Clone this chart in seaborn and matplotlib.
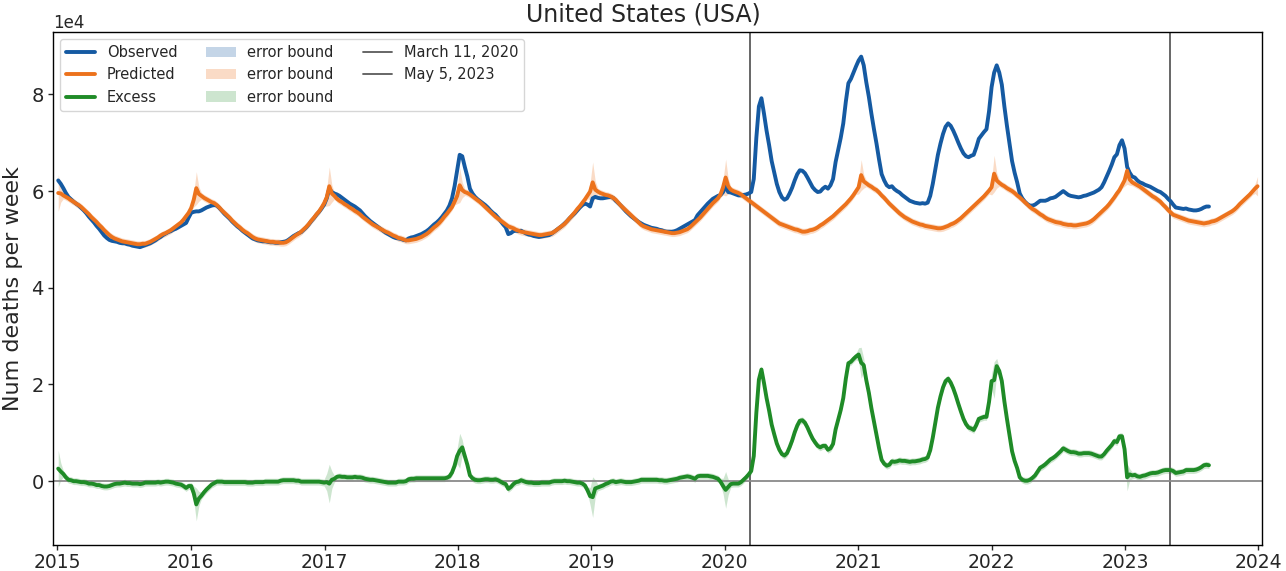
import numpy as np
import pandas as pd
import matplotlib
matplotlib.use("Agg")
import matplotlib.pyplot as plt
import matplotlib.dates as mdates
from matplotlib.lines import Line2D
from matplotlib.patches import Patch
import seaborn as sns

# ---------------- data (weekly, units of 1e4 deaths) ----------------
START = "2015-01-03"
SCALE = 1e4

OBSERVED = [
    6.22, 6.15, 6.06, 5.96, 5.88, 5.83, 5.78, 5.74, 5.70, 5.65,
    5.60, 5.54, 5.47, 5.41, 5.35, 5.28, 5.22, 5.15, 5.08, 5.03,
    4.99, 4.97, 4.96, 4.95, 4.93, 4.92, 4.92, 4.90, 4.89, 4.87,
    4.86, 4.85, 4.84, 4.86, 4.88, 4.90, 4.92, 4.95, 4.98, 5.02,
    5.05, 5.09, 5.12, 5.15, 5.17, 5.20, 5.22, 5.25, 5.28, 5.31,
    5.34, 5.45, 5.55, 5.57, 5.58, 5.58, 5.60, 5.63, 5.66, 5.68,
    5.70, 5.71, 5.70, 5.65, 5.59, 5.53, 5.48, 5.43, 5.37, 5.32,
    5.27, 5.23, 5.18, 5.14, 5.10, 5.06, 5.02, 5.00, 4.98, 4.97,
    4.96, 4.96, 4.95, 4.94, 4.94, 4.93, 4.93, 4.94, 4.95, 4.96,
    4.99, 5.03, 5.07, 5.10, 5.13, 5.15, 5.20, 5.25, 5.31, 5.38,
    5.44, 5.51, 5.57, 5.64, 5.72, 5.85, 6.05, 5.98, 5.95, 5.93,
    5.90, 5.86, 5.82, 5.78, 5.74, 5.71, 5.68, 5.64, 5.60, 5.54,
    5.48, 5.43, 5.38, 5.34, 5.30, 5.26, 5.22, 5.18, 5.14, 5.11,
    5.08, 5.05, 5.03, 5.02, 5.01, 4.99, 4.98, 5.02, 5.04, 5.05,
    5.07, 5.09, 5.11, 5.14, 5.17, 5.21, 5.26, 5.31, 5.35, 5.40,
    5.46, 5.53, 5.60, 5.70, 5.85, 6.10, 6.42, 6.75, 6.72, 6.50,
    6.30, 6.05, 5.95, 5.88, 5.83, 5.79, 5.75, 5.71, 5.66, 5.60,
    5.55, 5.51, 5.45, 5.38, 5.31, 5.25, 5.11, 5.13, 5.17, 5.18,
    5.17, 5.18, 5.15, 5.12, 5.10, 5.09, 5.07, 5.06, 5.05, 5.06,
    5.07, 5.08, 5.09, 5.12, 5.16, 5.20, 5.24, 5.28, 5.33, 5.38,
    5.44, 5.49, 5.54, 5.60, 5.66, 5.71, 5.74, 5.72, 5.68, 5.85,
    5.88, 5.86, 5.85, 5.85, 5.86, 5.87, 5.88, 5.86, 5.80, 5.75,
    5.70, 5.64, 5.58, 5.53, 5.48, 5.44, 5.40, 5.36, 5.33, 5.30,
    5.28, 5.26, 5.24, 5.23, 5.22, 5.20, 5.19, 5.17, 5.16, 5.16,
    5.16, 5.17, 5.19, 5.22, 5.25, 5.28, 5.31, 5.34, 5.37, 5.40,
    5.50, 5.56, 5.62, 5.68, 5.74, 5.79, 5.84, 5.87, 5.90, 5.92,
    5.98, 6.10, 5.98, 5.97, 5.95, 5.93, 5.91, 5.91, 5.92, 5.93,
    5.95, 5.98, 6.25, 7.10, 7.75, 7.92, 7.60, 7.25, 6.95, 6.62,
    6.38, 6.15, 5.98, 5.87, 5.82, 5.85, 5.95, 6.07, 6.22, 6.35,
    6.43, 6.42, 6.37, 6.28, 6.18, 6.08, 6.02, 5.98, 5.99, 6.05,
    6.09, 6.05, 6.12, 6.25, 6.60, 6.85, 7.10, 7.40, 7.85, 8.23,
    8.32, 8.45, 8.58, 8.70, 8.78, 8.60, 8.25, 7.95, 7.60, 7.28,
    6.98, 6.65, 6.35, 6.22, 6.12, 6.08, 6.10, 6.04, 6.00, 5.97,
    5.92, 5.88, 5.84, 5.80, 5.78, 5.76, 5.75, 5.74, 5.75, 5.74,
    5.76, 5.90, 6.15, 6.45, 6.75, 6.98, 7.18, 7.33, 7.40, 7.35,
    7.25, 7.13, 7.00, 6.88, 6.78, 6.72, 6.70, 6.73, 6.75, 6.90,
    7.08, 7.15, 7.22, 7.28, 7.65, 8.15, 8.45, 8.60, 8.45, 8.20,
    7.75, 7.35, 6.98, 6.62, 6.38, 6.18, 5.95, 5.85, 5.78, 5.73,
    5.70, 5.70, 5.72, 5.76, 5.80, 5.80, 5.80, 5.82, 5.85, 5.86,
    5.88, 5.92, 5.96, 6.00, 5.96, 5.92, 5.90, 5.89, 5.88, 5.87,
    5.88, 5.90, 5.91, 5.93, 5.95, 5.97, 6.00, 6.03, 6.08, 6.18,
    6.30, 6.42, 6.55, 6.70, 6.76, 6.95, 7.05, 6.88, 6.50, 6.38,
    6.30, 6.28, 6.22, 6.18, 6.16, 6.13, 6.11, 6.09, 6.06, 6.03,
    6.00, 5.98, 5.94, 5.90, 5.84, 5.79, 5.72, 5.66, 5.65, 5.64,
    5.63, 5.64, 5.62, 5.61, 5.60, 5.60, 5.61, 5.63, 5.66, 5.68,
    5.68,
]

PREDICTED = [
    5.96, 5.95, 5.91, 5.88, 5.85, 5.81, 5.78, 5.74, 5.71, 5.67,
    5.62, 5.57, 5.52, 5.46, 5.41, 5.36, 5.30, 5.25, 5.19, 5.14,
    5.09, 5.05, 5.02, 5.00, 4.98, 4.96, 4.95, 4.94, 4.93, 4.92,
    4.91, 4.90, 4.90, 4.91, 4.91, 4.93, 4.95, 4.98, 5.01, 5.04,
    5.08, 5.11, 5.13, 5.16, 5.19, 5.23, 5.27, 5.31, 5.35, 5.41,
    5.48, 5.55, 5.65, 5.82, 6.06, 5.94, 5.90, 5.86, 5.83, 5.80,
    5.77, 5.75, 5.71, 5.66, 5.60, 5.55, 5.50, 5.45, 5.39, 5.34,
    5.29, 5.25, 5.20, 5.16, 5.13, 5.09, 5.05, 5.02, 5.00, 4.99,
    4.98, 4.97, 4.96, 4.95, 4.95, 4.94, 4.94, 4.93, 4.93, 4.94,
    4.97, 5.01, 5.05, 5.09, 5.12, 5.16, 5.21, 5.26, 5.32, 5.39,
    5.45, 5.52, 5.58, 5.66, 5.75, 5.87, 6.10, 5.95, 5.90, 5.84,
    5.80, 5.77, 5.73, 5.70, 5.66, 5.63, 5.59, 5.56, 5.52, 5.47,
    5.43, 5.39, 5.35, 5.31, 5.28, 5.25, 5.22, 5.19, 5.16, 5.14,
    5.11, 5.08, 5.06, 5.03, 5.02, 5.00, 4.98, 4.98, 4.99, 5.00,
    5.01, 5.03, 5.05, 5.08, 5.11, 5.15, 5.20, 5.25, 5.29, 5.34,
    5.40, 5.47, 5.53, 5.60, 5.67, 5.78, 5.90, 6.12, 6.02, 5.98,
    5.96, 5.93, 5.89, 5.85, 5.81, 5.77, 5.72, 5.67, 5.62, 5.57,
    5.52, 5.47, 5.43, 5.39, 5.35, 5.31, 5.27, 5.25, 5.23, 5.20,
    5.18, 5.16, 5.15, 5.14, 5.13, 5.12, 5.11, 5.10, 5.09, 5.09,
    5.10, 5.11, 5.12, 5.13, 5.16, 5.20, 5.24, 5.28, 5.32, 5.38,
    5.44, 5.50, 5.56, 5.63, 5.69, 5.76, 5.83, 5.91, 5.99, 6.18,
    6.03, 5.99, 5.96, 5.94, 5.92, 5.91, 5.89, 5.86, 5.82, 5.76,
    5.70, 5.65, 5.60, 5.55, 5.50, 5.45, 5.40, 5.35, 5.30, 5.27,
    5.25, 5.23, 5.21, 5.20, 5.19, 5.18, 5.17, 5.16, 5.15, 5.14,
    5.13, 5.13, 5.14, 5.15, 5.17, 5.19, 5.21, 5.25, 5.30, 5.35,
    5.40, 5.45, 5.51, 5.57, 5.63, 5.69, 5.75, 5.80, 5.85, 5.93,
    6.08, 6.28, 6.10, 6.03, 6.00, 5.98, 5.96, 5.93, 5.89, 5.85,
    5.81, 5.77, 5.73, 5.69, 5.65, 5.61, 5.57, 5.53, 5.49, 5.45,
    5.41, 5.37, 5.33, 5.31, 5.29, 5.27, 5.25, 5.23, 5.21, 5.20,
    5.18, 5.16, 5.16, 5.17, 5.19, 5.20, 5.22, 5.25, 5.29, 5.32,
    5.36, 5.40, 5.44, 5.48, 5.53, 5.58, 5.63, 5.68, 5.73, 5.79,
    5.85, 5.92, 6.00, 6.08, 6.33, 6.20, 6.16, 6.12, 6.09, 6.05,
    6.02, 5.97, 5.91, 5.86, 5.80, 5.74, 5.69, 5.64, 5.59, 5.54,
    5.50, 5.46, 5.43, 5.40, 5.37, 5.35, 5.33, 5.31, 5.30, 5.28,
    5.27, 5.26, 5.25, 5.24, 5.23, 5.23, 5.24, 5.26, 5.28, 5.31,
    5.33, 5.36, 5.40, 5.44, 5.49, 5.54, 5.59, 5.64, 5.69, 5.74,
    5.79, 5.84, 5.89, 5.95, 6.01, 6.08, 6.36, 6.22, 6.17, 6.13,
    6.10, 6.06, 6.03, 6.00, 5.96, 5.91, 5.87, 5.82, 5.77, 5.72,
    5.67, 5.63, 5.60, 5.56, 5.52, 5.49, 5.45, 5.42, 5.40, 5.38,
    5.36, 5.35, 5.34, 5.32, 5.31, 5.30, 5.30, 5.29, 5.29, 5.30,
    5.31, 5.32, 5.33, 5.35, 5.38, 5.42, 5.47, 5.52, 5.57, 5.62,
    5.67, 5.73, 5.80, 5.87, 5.95, 6.02, 6.12, 6.22, 6.42, 6.24,
    6.18, 6.15, 6.12, 6.09, 6.05, 6.01, 5.97, 5.93, 5.89, 5.86,
    5.82, 5.78, 5.72, 5.67, 5.61, 5.56, 5.51, 5.49, 5.47, 5.45,
    5.43, 5.41, 5.39, 5.38, 5.37, 5.36, 5.35, 5.34, 5.33, 5.34,
    5.35, 5.37, 5.38, 5.40, 5.43, 5.46, 5.49, 5.52, 5.55, 5.58,
    5.62, 5.67, 5.73, 5.78, 5.83, 5.88, 5.93, 5.99, 6.05, 6.10,
]

# error-band half widths (1e4): narrow baseline, wider around winter peaks
ERR_BASE = 0.07
PEAK_WEEKS = ["2015-01-03", "2016-01-16", "2017-01-14", "2018-01-06", "2019-01-05",
              "2020-01-04", "2021-01-09", "2022-01-08", "2023-01-07", "2023-12-30"]
PEAK_ERR = [0.38, 0.34, 0.40, 0.36, 0.42, 0.38, 0.32, 0.38, 0.28, 0.20]
SHOULDER_ERR = [0.18, 0.15, 0.18, 0.16, 0.18, 0.16, 0.14, 0.16, 0.12, 0.10]

EVENT_DATES = ["2020-03-11", "2023-05-05"]
EVENT_LABELS = ["March 11, 2020", "May 5, 2023"]

# ---------------- build frames ----------------
pred_dates = pd.date_range(START, periods=len(PREDICTED), freq="7D")
obs_dates = pred_dates[:len(OBSERVED)]

err = pd.Series(ERR_BASE, index=pred_dates)
for d, pk, sh in zip(PEAK_WEEKS, PEAK_ERR, SHOULDER_ERR):
    d = pd.Timestamp(d)
    for dd, v in ((d - pd.Timedelta(days=7), sh), (d + pd.Timedelta(days=7), sh), (d, pk)):
        if dd in err.index:
            err[dd] = v

pred = pd.Series(PREDICTED, index=pred_dates) * SCALE
obs = pd.Series(OBSERVED, index=obs_dates) * SCALE
excess = obs - pred.loc[obs_dates]
err_abs = err * SCALE

long = pd.concat([
    pd.DataFrame({"date": obs_dates, "value": obs.values, "series": "Observed"}),
    pd.DataFrame({"date": pred_dates, "value": pred.values, "series": "Predicted"}),
    pd.DataFrame({"date": obs_dates, "value": excess.values, "series": "Excess"}),
], ignore_index=True)

C_OBS = "#155aa2"
C_PRED = "#ec721c"
C_EXC = "#1f8b27"
palette = {"Observed": C_OBS, "Predicted": C_PRED, "Excess": C_EXC}

# ---------------- plot ----------------
sns.set_theme(style="ticks")
plt.rcParams["font.family"] = ["DejaVu Sans"]

fig, ax = plt.subplots(figsize=(12.86, 5.71), dpi=100)
fig.subplots_adjust(left=0.041, right=0.981, top=0.944, bottom=0.0455)

sns.lineplot(data=long, x="date", y="value", hue="series", palette=palette,
             linewidth=2.8, legend=False, ax=ax, estimator=None, sort=False)

ax.fill_between(obs_dates, obs.values, obs.values, color=C_OBS, alpha=0.25, lw=0)
ax.fill_between(pred_dates, (pred - err_abs).values, (pred + err_abs).values,
                color=C_PRED, alpha=0.25, lw=0)
exc_err = err_abs.loc[obs_dates]
ax.fill_between(obs_dates, (excess - exc_err).values, (excess + exc_err).values,
                color=C_EXC, alpha=0.22, lw=0)

for d in EVENT_DATES:
    ax.axvline(pd.Timestamp(d), color="#5a5a5a", lw=1.3, zorder=1)
ax.axhline(0, color="#8a8a8a", lw=1.3, zorder=1)

ax.set_xlim(pd.Timestamp("2014-12-19"), pd.Timestamp("2024-01-10"))
ax.set_ylim(-1.32e4, 9.29e4)
ax.xaxis.set_major_locator(mdates.YearLocator())
ax.xaxis.set_major_formatter(mdates.DateFormatter("%Y"))
ax.ticklabel_format(axis="y", style="sci", scilimits=(4, 4))
ax.yaxis.get_offset_text().set_fontsize(12)
ax.tick_params(axis="y", labelsize=14, direction="out", length=3.5, width=1, pad=3)
ax.tick_params(axis="x", labelsize=13.5, direction="out", length=3.5, width=1, pad=2)
for s in ax.spines.values():
    s.set_color("black")
    s.set_linewidth(1.0)

ax.set_xlabel("")
ax.set_ylabel("Num deaths per week", fontsize=16, labelpad=6)
fig.suptitle("United States (USA)", x=0.5, y=0.995, va="top", fontsize=17)

handles = [
    Line2D([], [], color=C_OBS, lw=2.8),
    Line2D([], [], color=C_PRED, lw=2.8),
    Line2D([], [], color=C_EXC, lw=2.8),
    Patch(facecolor=C_OBS, alpha=0.25, lw=0),
    Patch(facecolor=C_PRED, alpha=0.25, lw=0),
    Patch(facecolor=C_EXC, alpha=0.22, lw=0),
    Line2D([], [], color="#5a5a5a", lw=1.3),
    Line2D([], [], color="#5a5a5a", lw=1.3),
]
labels = ["Observed", "Predicted", "Excess", "error bound", "error bound",
          "error bound", EVENT_LABELS[0], EVENT_LABELS[1]]
ax.legend(handles, labels, loc="upper left", ncol=3, fontsize=10.5, frameon=True)

fig.savefig("out.png", dpi=100)
